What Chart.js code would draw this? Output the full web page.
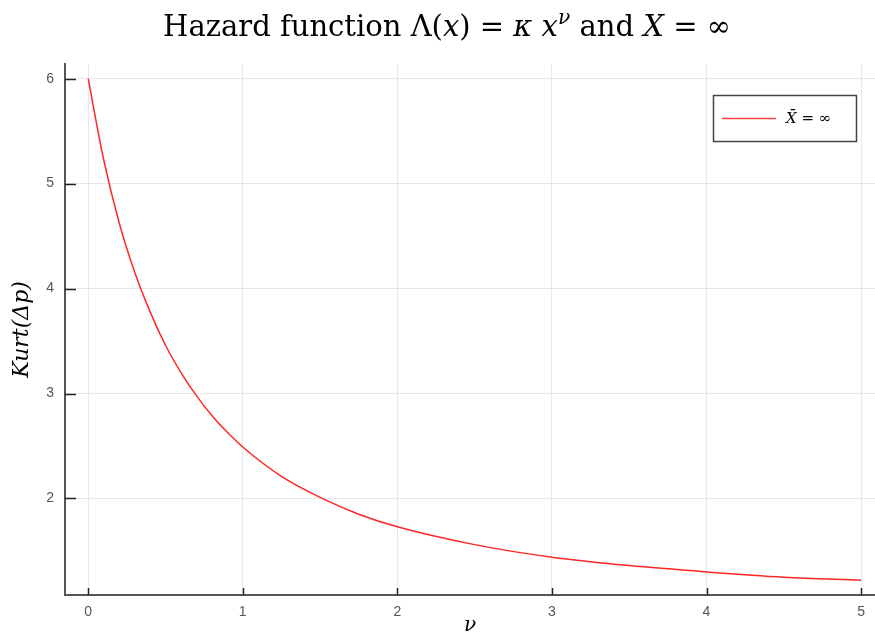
<!DOCTYPE html>
<html>
<head>
<meta charset="utf-8">
<script src="https://cdn.jsdelivr.net/npm/chart.js@4.4.1/dist/chart.umd.min.js"></script>
<style>
  html, body { margin: 0; padding: 0; background: #fff; overflow: hidden; }
  #wrap { width: 875px; height: 634px; position: relative; }
</style>
</head>
<body>
<div id="wrap"><canvas id="chart"></canvas></div>
<script>
// values
const nu = [0, 0.1, 0.2, 0.3, 0.4, 0.5, 0.6, 0.7, 0.8, 0.9, 1.0, 1.25, 1.5, 1.75, 2.0, 2.5, 3.0, 3.5, 4.0, 4.5, 5.0]
const kurt = [6.00, 5.23, 4.63, 4.16, 3.78, 3.46, 3.20, 2.98, 2.79, 2.63, 2.49, 2.21, 2.01, 1.85, 1.73, 1.56, 1.44, 1.36, 1.30, 1.25, 1.22]
const xTicks = [0, 1, 2, 3, 4, 5]
const yTicks = [2, 3, 4, 5, 6]
const seriesLabel = "X̄ = ∞"

const serif = "'DejaVu Serif', 'Liberation Serif', serif"
const sans = "'Liberation Sans', Arial, sans-serif"

// title with math italics and a superscript
const titleParts = [
  { t: "Hazard function Λ(", it: false },
  { t: "x", it: true },
  { t: ") = ", it: false },
  { t: "κ x", it: true },
  { t: "ν", it: true, sup: true },
  { t: " and ", it: false },
  { t: "X", it: true },
  { t: " = ∞", it: false }
]

const titlePlugin = {
  id: "mathTitle",
  afterDraw(chart) {
    const ctx = chart.ctx
    const font = (p, size) => (p.it ? "italic " : "") + (p.sup ? size * 0.7 : size) + "px " + serif
    const measure = (size) => titleParts.reduce((w, p) => { ctx.font = font(p, size); return w + ctx.measureText(p.t).width }, 0)
    ctx.save()
    // fit the title to the width it has in the reference
    let size = 28
    size = Math.min(30, size * 568 / measure(size))
    const total = measure(size)
    let x = 447 - total / 2
    ctx.fillStyle = "#000"
    ctx.textBaseline = "alphabetic"
    titleParts.forEach(p => {
      ctx.font = font(p, size)
      ctx.fillText(p.t, x, p.sup ? 24 : 36)
      x += ctx.measureText(p.t).width
    })
    ctx.restore()
  }
}

// inward tick marks and the boxed legend
const framePlugin = {
  id: "frame",
  afterDatasetsDraw(chart) {
    const ctx = chart.ctx
    const xs = chart.scales.x, ys = chart.scales.y
    const a = chart.chartArea
    ctx.save()
    ctx.strokeStyle = "#222"
    ctx.lineWidth = 1.5
    ctx.beginPath()
    xTicks.forEach(v => {
      const px = Math.round(xs.getPixelForValue(v)) + 0.5
      ctx.moveTo(px, a.bottom)
      ctx.lineTo(px, a.bottom - 7)
    })
    yTicks.forEach(v => {
      const py = Math.round(ys.getPixelForValue(v)) + 0.5
      ctx.moveTo(a.left, py)
      ctx.lineTo(a.left + 11, py)
    })
    ctx.stroke()

    // legend
    ctx.fillStyle = "#fff"
    ctx.fillRect(713, 95, 143, 46)
    ctx.strokeStyle = "#444"
    ctx.lineWidth = 1.5
    ctx.strokeRect(713.5, 95.5, 143, 46)
    ctx.strokeStyle = "rgba(255,0,0,0.75)"
    ctx.lineWidth = 1.5
    ctx.beginPath()
    ctx.moveTo(722, 118.5)
    ctx.lineTo(776, 118.5)
    ctx.stroke()
    ctx.fillStyle = "#000"
    ctx.textBaseline = "middle"
    ctx.font = "italic 15px " + serif
    ctx.fillText("X̄", 786, 119)
    const w = ctx.measureText("X̄").width
    ctx.font = "15px " + serif
    ctx.fillText(" = ∞", 786 + w, 119)
    ctx.restore()
  }
}

new Chart(document.getElementById("chart"), {
  type: "line",
  data: {
    datasets: [{
      label: seriesLabel,
      data: nu.map((v, i) => ({ x: v, y: kurt[i] })),
      borderColor: "rgba(255, 0, 0, 0.85)",
      borderWidth: 1.5,
      pointRadius: 0,
      cubicInterpolationMode: "monotone",
      fill: false
    }]
  },
  options: {
    responsive: true,
    maintainAspectRatio: false,
    animation: false,
    layout: { padding: { top: 64, right: 0, bottom: 0, left: 0 } },
    plugins: {
      legend: { display: false },
      title: { display: false },
      tooltip: { enabled: false }
    },
    scales: {
      x: {
        type: "linear",
        min: -0.15,
        max: 5.09,
        afterBuildTicks: (s) => { s.ticks = xTicks.map(v => ({ value: v })) },
        afterFit: (s) => { s.height = 39 },
        grid: { color: "rgba(0,0,0,0.09)", lineWidth: 1, drawTicks: false },
        border: { display: true, color: "#555", width: 2 },
        ticks: { color: "#555", font: { family: sans, size: 14 }, padding: 9, maxRotation: 0 },
        title: {
          display: true,
          text: "ν",
          color: "#000",
          font: { family: serif, size: 20, style: "italic", lineHeight: 1 },
          padding: { top: 0, bottom: -2 }
        }
      },
      y: {
        type: "linear",
        min: 1.08,
        max: 6.14,
        afterBuildTicks: (s) => { s.ticks = yTicks.map(v => ({ value: v })) },
        afterFit: (s) => { s.width = 65 },
        grid: { color: "rgba(0,0,0,0.09)", lineWidth: 1, drawTicks: false },
        border: { display: true, color: "#555", width: 2 },
        ticks: { color: "#555", font: { family: sans, size: 14 }, padding: 11 },
        title: {
          display: true,
          text: "Kurt(Δp)",
          color: "#000",
          font: { family: serif, size: 22, style: "italic", lineHeight: 1.2 },
          padding: { top: 9, bottom: 0 }
        }
      }
    }
  },
  plugins: [titlePlugin, framePlugin]
})
</script>
</body>
</html>
